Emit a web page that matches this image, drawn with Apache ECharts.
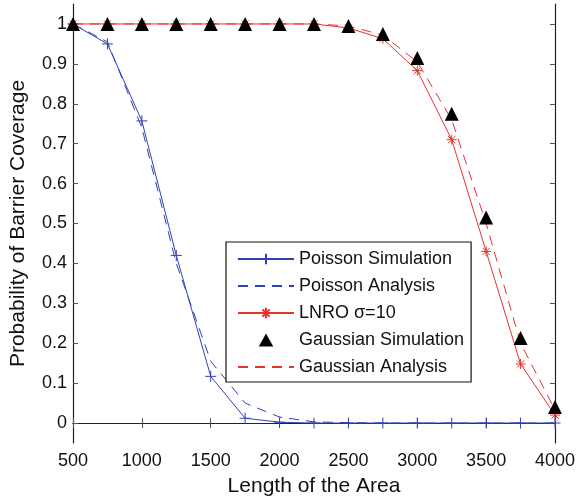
<!DOCTYPE html>
<html>
<head>
<meta charset="utf-8">
<script src="https://cdn.jsdelivr.net/npm/echarts@6/dist/echarts.min.js"></script>
<style>html,body{margin:0;padding:0;background:#fff}#c{width:580px;height:498px}</style>
</head>
<body>
<div id="c"></div>
<script>
const lengths = [500, 750, 1000, 1250, 1500, 1750, 2000, 2250, 2500, 2750, 3000, 3250, 3500, 3750, 4000];
const poissonSim = [1, 0.95, 0.757, 0.42, 0.117, 0.012, 0.002, 0, 0, 0, 0, 0, 0, 0, 0];
const poissonAna = [1, 0.955, 0.74, 0.40, 0.155, 0.05, 0.015, 0.003, 0.001, 0, 0, 0, 0, 0, 0];
const lnro = [1, 1, 1, 1, 1, 1, 1, 1, 0.99, 0.963, 0.883, 0.71, 0.43, 0.148, 0.02];
const gaussSim = [1, 1, 1, 1, 1, 1, 1, 1, 0.995, 0.975, 0.915, 0.775, 0.515, 0.213, 0.04];
const gaussAna = [1, 1, 1, 1, 1, 1, 1, 1, 0.995, 0.972, 0.905, 0.76, 0.50, 0.20, 0.033];
const yTicks = [0, 0.1, 0.2, 0.3, 0.4, 0.5, 0.6, 0.7, 0.8, 0.9, 1];
const legendNames = ['Poisson Simulation', 'Poisson Analysis', 'LNRO σ=10', 'Gaussian Simulation', 'Gaussian Analysis'];

const BLUE = '#3043b4';
const RED = '#e8322c';
const FONT = 'Liberation Sans, Arial, Helvetica, sans-serif';
const pair = arr => lengths.map((x, i) => [x, arr[i]]);
const plus = 'path://M0,5L10,5M5,0L5,10';
const star = 'path://M0,5L10,5M5,0L5,10M1.5,1.5L8.5,8.5M8.5,1.5L1.5,8.5';
const tri = 'path://M5,0L10,9L0,9Z';

const axisCommon = {
  axisLine: { show: true, lineStyle: { color: '#222', width: 1.2 } },
  axisTick: { show: true, inside: true, length: 5, lineStyle: { color: '#555' } },
  splitLine: { show: false }
};

const chart = echarts.init(document.getElementById('c'));
chart.setOption({
  animation: false,
  backgroundColor: '#fff',
  grid: { left: 73, right: 25, top: 4, bottom: 55, containLabel: false, outerBoundsMode: 'none' },
  xAxis: [
    Object.assign({}, axisCommon, {
      type: 'value', min: 500, max: 4000, interval: 500, position: 'bottom',
      name: 'Length of the Area', nameLocation: 'middle', nameGap: 33,
      nameTextStyle: { fontSize: 21, color: '#111', fontFamily: FONT },
      axisLabel: { fontSize: 18, color: '#111', fontFamily: FONT, margin: 9, formatter: v => String(v) }
    }),
    Object.assign({}, axisCommon, {
      type: 'value', min: 500, max: 4000, interval: 500, position: 'top',
      axisLabel: { show: false }
    })
  ],
  yAxis: [
    Object.assign({}, axisCommon, {
      type: 'value', min: -0.05, max: 1.05, position: 'left',
      name: 'Probability of Barrier Coverage', nameLocation: 'middle', nameGap: 44,
      nameTextStyle: { fontSize: 21, color: '#111', fontFamily: FONT },
      axisTick: Object.assign({}, axisCommon.axisTick, { customValues: yTicks }),
      axisLabel: { fontSize: 18, color: '#111', fontFamily: FONT, margin: 6, customValues: yTicks,
        formatter: v => String(Math.round(v * 10) / 10) }
    }),
    Object.assign({}, axisCommon, {
      type: 'value', min: -0.05, max: 1.05, position: 'right',
      axisTick: Object.assign({}, axisCommon.axisTick, { customValues: yTicks }),
      axisLabel: { show: false }
    })
  ],
  legend: {
    data: [
      { name: legendNames[0] },
      { name: legendNames[1], itemStyle: { opacity: 0 } },
      { name: legendNames[2] },
      { name: legendNames[3], icon: tri },
      { name: legendNames[4], itemStyle: { opacity: 0 } }
    ],
    orient: 'vertical', left: 226, top: 242,
    width: 252,
    padding: [8, 7, 6, 11],
    itemGap: 9, itemWidth: 56, itemHeight: 13,
    backgroundColor: '#fff', borderColor: '#111', borderWidth: 1.2, borderRadius: 0,
    textStyle: { fontSize: 18, color: '#111', fontFamily: FONT, lineHeight: 18 }
  },
  series: [
    { name: legendNames[0], type: 'line', data: pair(poissonSim), symbol: plus, symbolSize: 11,
      lineStyle: { color: BLUE, width: 1 }, itemStyle: { color: BLUE, borderColor: BLUE, borderWidth: 1 } },
    { name: legendNames[1], type: 'line', data: pair(poissonAna), symbol: 'none',
      lineStyle: { color: BLUE, width: 1, type: [10, 7] }, itemStyle: { color: BLUE } },
    { name: legendNames[2], type: 'line', data: pair(lnro), symbol: star, symbolSize: 10,
      lineStyle: { color: RED, width: 1 }, itemStyle: { color: RED, borderColor: RED, borderWidth: 1 } },
    { name: legendNames[3], type: 'scatter', data: pair(gaussSim), symbol: 'triangle', symbolSize: 14,
      z: 5, itemStyle: { color: '#000', opacity: 1 } },
    { name: legendNames[4], type: 'line', data: pair(gaussAna), symbol: 'none',
      lineStyle: { color: RED, width: 1, type: [10, 7] }, itemStyle: { color: RED } }
  ]
});
</script>
</body>
</html>
